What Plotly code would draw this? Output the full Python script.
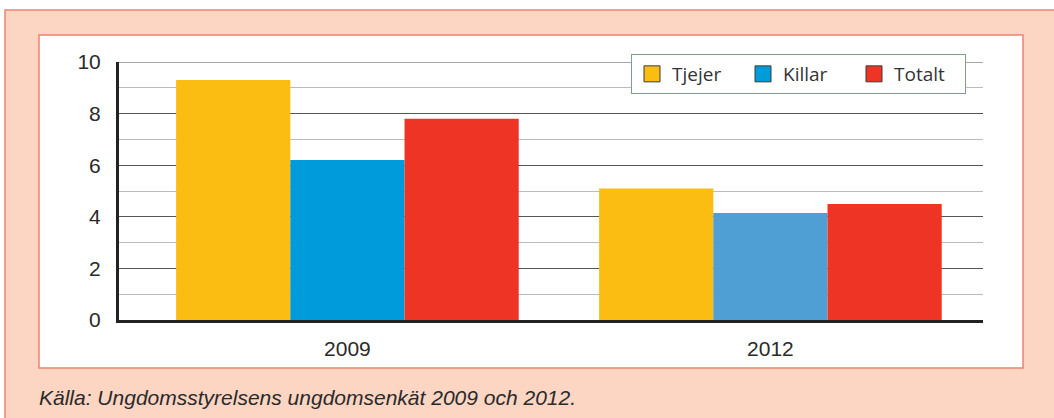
import plotly.graph_objects as go

# data
years = ['2009', '2012']
tjejer = [9.3, 5.1]
killar = [6.2, 4.15]
totalt = [7.8, 4.5]

names = ['Tjejer', 'Killar', 'Totalt']
yellow = '#FCBD12'
blue = ['#009BDB', '#4F9FD5']
red = '#EE3424'
legend_colors = [yellow, '#009BDB', red]

fig = go.Figure()
for name, vals, col in zip(names, [tjejer, killar, totalt], [yellow, blue, red]):
    fig.add_trace(go.Bar(x=years, y=vals, name=name, showlegend=False,
                         marker=dict(color=col, line=dict(width=0))))

# legend-only entries, to get bigger outlined squares
for name, col in zip(names, legend_colors):
    fig.add_trace(go.Scatter(x=[None], y=[None], mode='markers', name=name,
                             marker=dict(symbol='square', size=16, color=col,
                                         line=dict(color='#3a3a3a', width=1))))

# plot area in pixels: x 119..983, y 62..320
L, R, T, B = 119, 983, 62, 320
W, H = 1054, 418
def px(x):
    return (x - L) / (R - L)
def py(y):
    return (B - y) / (B - T)

shapes = [
    # pink frame
    dict(type='rect', xref='paper', yref='paper', layer='below',
         x0=px(5), x1=px(1070), y0=py(440), y1=py(10),
         fillcolor='#FCD5C3', line=dict(color='#F08272', width=1.5)),
    # white panel
    dict(type='rect', xref='paper', yref='paper', layer='below',
         x0=px(39), x1=px(1023), y0=py(368), y1=py(35),
         fillcolor='white', line=dict(color='#F08272', width=1.5)),
    # top grid line at 10
    dict(type='line', xref='paper', yref='y', layer='below',
         x0=0, x1=1, y0=10, y1=10, line=dict(color='#888888', width=1.5)),
]

fig.update_layout(
    width=W, height=H,
    margin=dict(l=L, r=W - R, t=T, b=H - B),
    paper_bgcolor='white',
    plot_bgcolor='rgba(0,0,0,0)',
    barmode='group',
    bargap=0.19,
    bargroupgap=0,
    font=dict(family='Liberation Sans, Arial, sans-serif', color='#2a2a2a'),
    shapes=shapes,
    legend=dict(
        orientation='h',
        x=px(631), y=py(54), xanchor='left', yanchor='top',
        bgcolor='white', bordercolor='#7F9F86', borderwidth=1,
        font=dict(size=19, color='#333333', family='Open Sans, sans-serif'),
        entrywidth=66,
        traceorder='normal',
    ),
    annotations=[dict(
        text='<i>Källa: Ungdomsstyrelsens ungdomsenkät 2009 och 2012.</i>',
        xref='paper', yref='paper', x=px(37), y=py(397),
        xanchor='left', yanchor='middle', showarrow=False,
        font=dict(size=21, color='#2a2a2a', family='Liberation Sans, Arial, sans-serif'),
    )],
)

fig.update_yaxes(
    range=[0, 10], dtick=2, tick0=0,
    showgrid=True, gridcolor='#555555', gridwidth=1.3,
    minor=dict(dtick=1, showgrid=True, gridcolor='#BBBBBB', gridwidth=1.3),
    showline=True, linecolor='#222222', linewidth=3,
    zeroline=False,
    tickfont=dict(size=21),
    ticklabelstandoff=11,
)
fig.update_xaxes(
    type='category',
    range=[-0.54, 1.5026],
    showline=True, linecolor='#222222', linewidth=3,
    showgrid=False,
    tickfont=dict(size=21),
    ticklabelstandoff=8,
)

fig.write_html('out.html', config={'displayModeBar': False},
               post_script="document.body.style.margin='0';")
